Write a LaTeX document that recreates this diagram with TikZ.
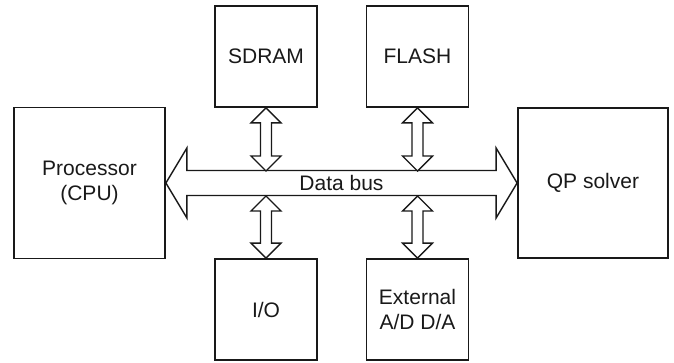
\documentclass[tikz,border=0pt]{standalone}
\usepackage{fontspec}
\setmainfont{Liberation Sans}
\usetikzlibrary{calc}
\newcommand\dblvarrow[2]{%
  \draw[arrowline] let \p1=(#1), \p2=(#2) in
    (\x1,\y1) -- (\x1-15pt,\y1-15pt) -- (\x1-5.5pt,\y1-15pt) -- (\x1-5.5pt,\y2+15pt)
    -- (\x1-15pt,\y2+15pt) -- (\x1,\y2) -- (\x1+15pt,\y2+15pt) -- (\x1+5.5pt,\y2+15pt)
    -- (\x1+5.5pt,\y1-15pt) -- (\x1+15pt,\y1-15pt) -- cycle;}
\begin{document}
\begin{tikzpicture}[x=1pt,y=-1pt,
  box/.style={draw=black!90,line width=1.8pt,inner sep=0pt,align=center,
    font=\fontsize{21}{25.5}\selectfont,text=black!90},
  bigbox/.style={box,minimum width=151pt,minimum height=151pt},
  smallbox/.style={box,minimum width=102pt,minimum height=101pt},
  arrowline/.style={draw=black!90,line width=1.4pt,fill=white,line join=miter}]
\useasboundingbox (0,0) rectangle (674,362);
\node[bigbox] (cpu) at (89.5,183) {Processor\\(CPU)};
\node[bigbox,minimum width=150pt,minimum height=150pt] (qp) at (593,183) {QP solver};
\node[smallbox] (sdram) at (266,56.5) {SDRAM};
\node[smallbox] (flash) at (417.5,56.5) {FLASH};
\node[smallbox] (io) at (266,309.5) {I/O};
\node[smallbox] (ext) at (417.5,309.5) {External\\A/D D/A};
% data bus
\draw[arrowline] let \p1=(cpu.east), \p2=(qp.west) in
  (\x1,\y1) -- (\x1+21pt,\y1+35pt) -- (\x1+21pt,\y1+12.5pt) -- (\x2-21pt,\y2+12.5pt)
  -- (\x2-21pt,\y2+35pt) -- (\x2,\y2) -- (\x2-21pt,\y2-35pt) -- (\x2-21pt,\y2-12.5pt)
  -- (\x1+21pt,\y1-12.5pt) -- (\x1+21pt,\y1-35pt) -- cycle;
\node[font=\fontsize{21}{25}\selectfont,text=black!90] (bus) at ($(cpu.east)!0.5!(qp.west)$) {Data bus};
\coordinate (bustop) at (0,171);
\coordinate (busbot) at (0,196);
\dblvarrow{sdram.south}{sdram.south |- bustop}
\dblvarrow{flash.south}{flash.south |- bustop}
\dblvarrow{io.north |- busbot}{io.north}
\dblvarrow{ext.north |- busbot}{ext.north}
\end{tikzpicture}
\end{document}
